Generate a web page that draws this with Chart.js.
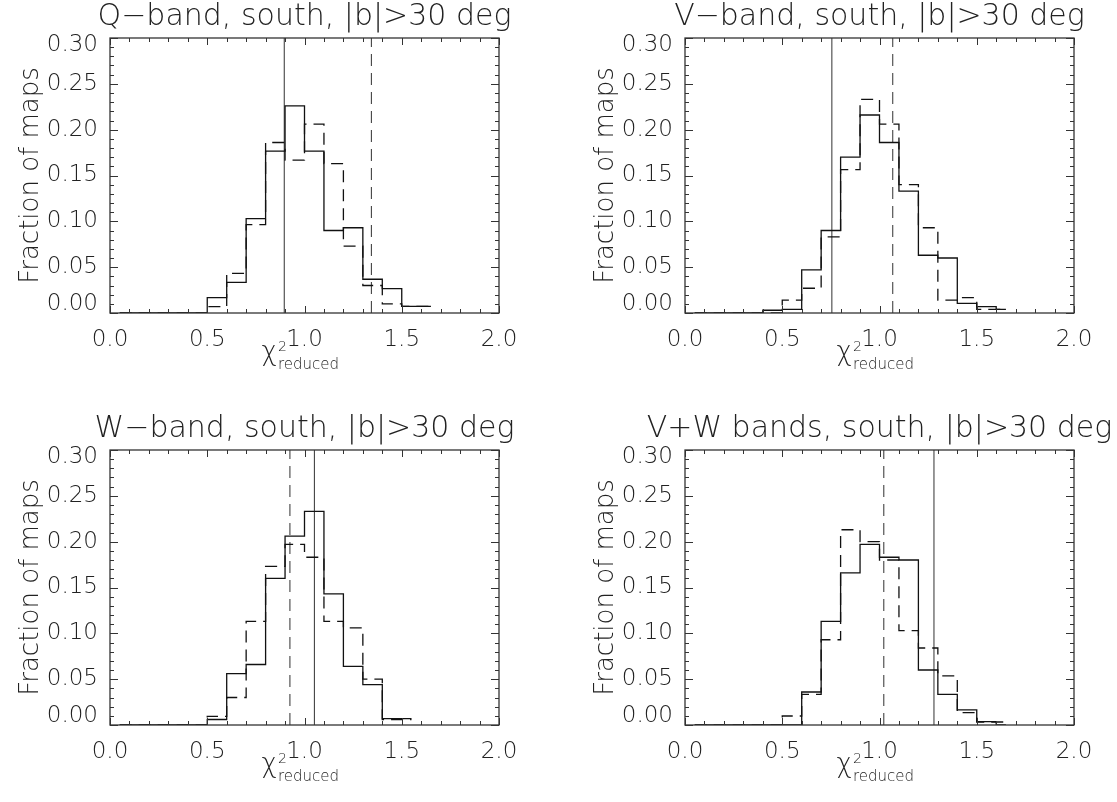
<!DOCTYPE html>
<html>
<head>
<meta charset="utf-8">
<script src="https://cdn.jsdelivr.net/npm/chart.js@4.4.1/dist/chart.umd.min.js"></script>
<style>
  html, body { margin: 0; padding: 0; background: #fff; }
  body { width: 1117px; height: 802px; position: relative; overflow: hidden; }
  .panel { position: absolute; width: 542px; height: 390px; }
</style>
</head>
<body>
<div class="panel" style="left:0;top:0"><canvas id="c0" width="542" height="390"></canvas></div>
<div class="panel" style="left:575px;top:0"><canvas id="c1" width="542" height="390"></canvas></div>
<div class="panel" style="left:0;top:412px"><canvas id="c2" width="542" height="390"></canvas></div>
<div class="panel" style="left:575px;top:412px"><canvas id="c3" width="542" height="390"></canvas></div>
<script>
// histogram bin centres (bins of 0.1 in reduced chi^2)
const binCenters = [0.05, 0.15, 0.25, 0.35, 0.45, 0.55, 0.65, 0.75, 0.85, 0.95, 1.05, 1.15, 1.25, 1.35, 1.45, 1.55, 1.65];

// fraction of maps per bin: solid and dashed histograms
const qSolid   = [0, 0, 0, 0, 0, 0.0167, 0.0335, 0.103, 0.1765, 0.226, 0.1765, 0.090, 0.093, 0.0368, 0.0266, 0.0073, 0.0073];
const qDashed  = [0, 0, 0, 0, 0, 0.0069, 0.0433, 0.0964, 0.186, 0.1667, 0.206, 0.163, 0.073, 0.030, 0.010, 0.0073, 0.0073];
const vSolid   = [0, 0, 0, 0, 0.003, 0.004, 0.047, 0.090, 0.170, 0.216, 0.186, 0.133, 0.063, 0.060, 0.0105, 0.007, 0.004];
const vDashed  = [0, 0, 0, 0, 0, 0.014, 0.027, 0.083, 0.1565, 0.233, 0.206, 0.140, 0.093, 0.014, 0.0167, 0.004, 0.004];
const wSolid   = [0, 0, 0, 0, 0, 0.006, 0.056, 0.066, 0.160, 0.206, 0.233, 0.143, 0.064, 0.044, 0.007, 0.007, null];
const wDashed  = [0, 0, 0, 0, 0, 0.0095, 0.030, 0.113, 0.173, 0.197, 0.183, 0.113, 0.106, 0.050, 0.006, 0.006, null];
const vwSolid  = [0, 0, 0, 0, 0, 0, 0.036, 0.113, 0.166, 0.197, 0.183, 0.180, 0.060, 0.0335, 0.0164, 0.0036, 0];
const vwDashed = [0, 0, 0, 0, 0, 0.0098, 0.0335, 0.093, 0.213, 0.200, 0.180, 0.103, 0.084, 0.0535, 0.0135, 0.0033, 0.0033];

// vertical reference lines per panel (Q, V, W, V+W)
const refSolid  = [0.896, 0.755, 1.051, 1.280];
const refDashed = [1.344, 1.068, 0.925, 1.022];

const panelTitles = [
  'Q\u2212band, south, |b|>30 deg',
  'V\u2212band, south, |b|>30 deg',
  'W\u2212band, south, |b|>30 deg',
  'V+W bands, south, |b|>30 deg'
];

const xTickValues = [0.0, 0.5, 1.0, 1.5, 2.0];
const yTickValues = [0.00, 0.05, 0.10, 0.15, 0.20, 0.25, 0.30];
const xMinorStep = 0.1;
const yMinorStep = 0.01;

const FONT = '"DejaVu Sans", sans-serif';
const WEIGHT = 200;
const INK = '#222';

// IDL-style frame: box, inward ticks on all four sides, title, chi^2 axis label
const idlFrame = {
  id: 'idlFrame',
  afterDraw(chart) {
    const { ctx, chartArea: a, scales: { x, y } } = chart;
    const title = chart.options.plugins.idlFrame.title;
    ctx.save();
    ctx.strokeStyle = '#333';
    ctx.lineWidth = 1.3;
    ctx.strokeRect(a.left, a.top, a.right - a.left, a.bottom - a.top);

    ctx.beginPath();
    const nx = Math.round((x.max - x.min) / xMinorStep);
    for (let i = 0; i <= nx; i++) {
      const v = x.min + i * xMinorStep;
      const px = Math.round(x.getPixelForValue(v)) + 0.5;
      const len = i % 5 === 0 ? 7 : 4;
      ctx.moveTo(px, a.bottom); ctx.lineTo(px, a.bottom - len);
      ctx.moveTo(px, a.top); ctx.lineTo(px, a.top + len);
    }
    const ny = Math.round((y.max - y.min) / yMinorStep);
    for (let i = 0; i <= ny; i++) {
      const v = y.min + i * yMinorStep;
      const py = Math.round(y.getPixelForValue(v)) + 0.5;
      const len = i % 5 === 0 ? 8 : 4;
      ctx.moveTo(a.left, py); ctx.lineTo(a.left + len, py);
      ctx.moveTo(a.right, py); ctx.lineTo(a.right - len, py);
    }
    ctx.lineWidth = 1;
    ctx.stroke();

    // panel title
    const cx = (a.left + a.right) / 2;
    ctx.fillStyle = INK;
    ctx.textAlign = 'center';
    ctx.textBaseline = 'alphabetic';
    ctx.font = WEIGHT + ' 30px ' + FONT;
    ctx.fillText(title, cx, a.top - 13);

    // chi^2_reduced label
    ctx.textAlign = 'left';
    const sx = cx - 43;
    ctx.font = WEIGHT + ' 26px ' + FONT;
    ctx.fillText('\u03c7', sx, a.bottom + 47);
    const w = ctx.measureText('\u03c7').width;
    ctx.font = WEIGHT + ' 14px ' + FONT;
    ctx.fillText('2', sx + w + 1, a.bottom + 38);
    ctx.font = WEIGHT + ' 15px ' + FONT;
    ctx.fillText('reduced', sx + w + 1, a.bottom + 56);
    ctx.restore();
  }
};

function toPoints(values) {
  return binCenters.map((xv, i) => ({ x: xv, y: values[i] }));
}

function vline(xv) {
  return [{ x: xv, y: yTickValues[0] }, { x: xv, y: yTickValues[yTickValues.length - 1] }];
}

// end labels of the y axis sit a little inside the box, as in the original plot
function yLabel(v, i) {
  const s = Number(v).toFixed(2);
  if (i === 0) return [s, ''];
  if (i === yTickValues.length - 1) return ['', s];
  return s;
}

function yFont(c) {
  let lh = 1.2;
  if (c.index === 0) lh = '18px';
  if (c.index === yTickValues.length - 1) lh = '14px';
  return { family: FONT, size: 23, weight: WEIGHT, lineHeight: lh };
}

function makePanel(id, idx, solid, dashed) {
  new Chart(document.getElementById(id), {
    type: 'line',
    data: {
      datasets: [
        { data: toPoints(solid), stepped: 'middle', borderColor: '#111', borderWidth: 1.3, pointRadius: 0, fill: false, spanGaps: false },
        { data: toPoints(dashed), stepped: 'middle', borderColor: '#111', borderWidth: 1.3, borderDash: [12, 7], pointRadius: 0, fill: false, spanGaps: false },
        { data: vline(refSolid[idx]), borderColor: '#444', borderWidth: 1.1, pointRadius: 0, fill: false },
        { data: vline(refDashed[idx]), borderColor: '#444', borderWidth: 1.1, borderDash: [12, 7], pointRadius: 0, fill: false }
      ]
    },
    options: {
      responsive: false,
      animation: false,
      events: [],
      layout: { padding: { top: 38, right: 43, left: 0, bottom: 0 } },
      plugins: {
        legend: { display: false },
        tooltip: { enabled: false },
        title: { display: false },
        idlFrame: { title: panelTitles[idx] }
      },
      scales: {
        x: {
          type: 'linear',
          min: xTickValues[0],
          max: xTickValues[xTickValues.length - 1],
          afterFit: s => { s.height = 77; },
          afterBuildTicks: s => { s.ticks = xTickValues.map(v => ({ value: v })); },
          ticks: { callback: v => Number(v).toFixed(1), font: { family: FONT, size: 23, weight: WEIGHT }, color: INK, padding: 13, maxRotation: 0, autoSkip: false },
          grid: { display: false, drawTicks: false },
          border: { display: false }
        },
        y: {
          type: 'linear',
          min: yTickValues[0],
          max: yTickValues[yTickValues.length - 1],
          afterFit: s => { s.width = 110; },
          afterBuildTicks: s => { s.ticks = yTickValues.map(v => ({ value: v })); },
          ticks: { callback: (v, i) => yLabel(v, i), font: yFont, color: INK, padding: 12, autoSkip: false },
          grid: { display: false, drawTicks: false },
          border: { display: false },
          title: { display: true, text: 'Fraction of maps', font: { family: FONT, size: 26, weight: WEIGHT }, color: INK, padding: { top: 16, bottom: 0 } }
        }
      }
    },
    plugins: [idlFrame]
  });
}

makePanel('c0', 0, qSolid, qDashed);
makePanel('c1', 1, vSolid, vDashed);
makePanel('c2', 2, wSolid, wDashed);
makePanel('c3', 3, vwSolid, vwDashed);
</script>
</body>
</html>
